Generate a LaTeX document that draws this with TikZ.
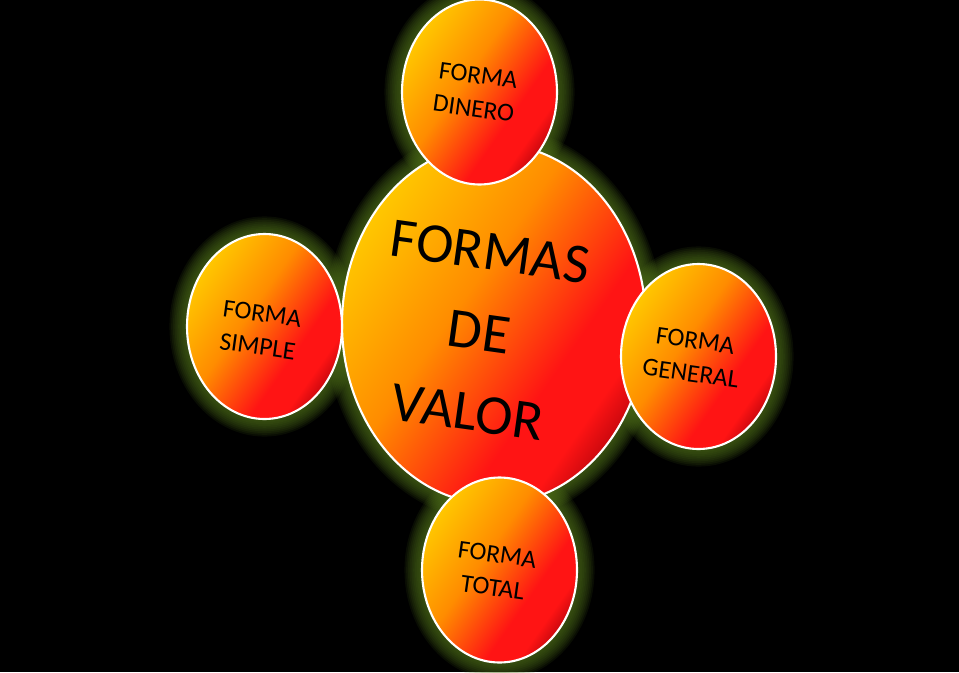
\documentclass[tikz,border=0pt]{standalone}
\usepackage{fontspec}
\setmainfont{Carlito}
\usetikzlibrary{shapes.geometric}
\definecolor{fglow}{HTML}{4E6E1A}
\definecolor{fyel}{HTML}{FFC800}
\definecolor{forg}{HTML}{FF8C00}
\definecolor{fred}{HTML}{FF1414}
\definecolor{fdark}{HTML}{A8000A}
\pgfdeclarehorizontalshading{fballshade}{100bp}{color(0bp)=(fyel); color(25bp)=(fyel); color(44bp)=(forg); color(62bp)=(fred); color(70bp)=(fred); color(78bp)=(fdark); color(100bp)=(fdark)}
\pgfdeclarelayer{bg}
\pgfdeclarelayer{halo}
\pgfsetlayers{bg,halo,main}
\tikzset{
  fbig/.style={ellipse, minimum width=6.08cm, minimum height=7.2cm},
  fsmall/.style={ellipse, minimum width=3.1cm, minimum height=3.7cm},
  fball/.style={draw=white, line width=1.2pt, shading=fballshade, shading angle=-35, inner sep=0pt},
  fhalo/.style={draw=fglow, line width=#1, draw opacity=0.12},
  ftext/.style={font=\fontsize{14.5}{19}\selectfont, align=center, rotate=-8, inner sep=0pt},
  fbigtext/.style={font=\fontsize{32}{46}\selectfont, align=center, rotate=-8, inner sep=0pt},
}
\begin{document}
\begin{tikzpicture}
  \useasboundingbox (0,0) rectangle (19.18,13.44);
  \begin{pgfonlayer}{bg}
    \fill[black] (0,0) rectangle (19.18,13.44);
  \end{pgfonlayer}

  \node[fball, fbig] (V) at (9.88,6.96) {};
  \node[fball, fsmall] (D) at (9.59,11.60) {};
  \node[fball, fsmall] (S) at (5.29,6.91) {};
  \node[fball, fsmall] (G) at (13.97,6.31) {};
  \node[fball, fsmall] (T) at (9.99,2.04) {};

  \begin{pgfonlayer}{halo}
    \foreach \w in {2,4,...,20}{
      \draw[fhalo=\w pt] (V.center) ellipse [x radius=3.04cm, y radius=3.6cm];
      \foreach \n in {D,S,G,T}
        \draw[fhalo=\w pt] (\n.center) ellipse [x radius=1.55cm, y radius=1.85cm];
    }
  \end{pgfonlayer}

  \node[fbigtext] (vt) at (9.58,6.80) {FORMAS\\DE\\VALOR};
  \node[ftext] (dt) at (9.52,11.60) {FORMA\\DINERO};
  \node[ftext] (st) at (5.20,6.84) {FORMA\\SIMPLE};
  \node[ftext] (gt) at (13.86,6.30) {FORMA\\GENERAL};
  \node[ftext] (tt) at (9.90,2.02) {FORMA\\TOTAL};
\end{tikzpicture}
\end{document}
